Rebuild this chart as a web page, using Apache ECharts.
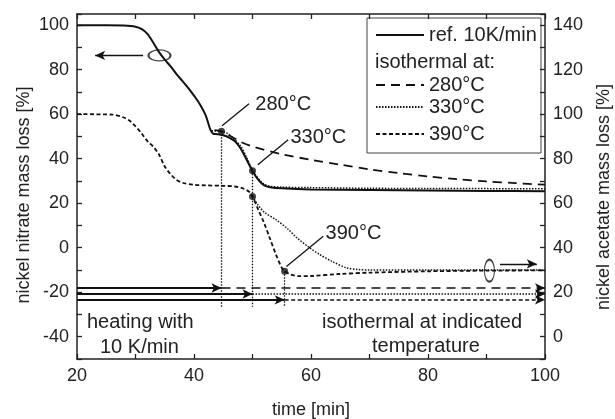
<!DOCTYPE html>
<html>
<head>
<meta charset="utf-8">
<title>Nickel nitrate / acetate mass loss</title>
<script src="https://cdn.jsdelivr.net/npm/echarts@6/dist/echarts.min.js"></script>
</head>
<body style="margin:0">
<div id="main" style="width:615px;height:419px;"></div>
<script type="text/javascript">
// nickel nitrate, reference heating 10 K/min (left axis)
var refTime = [20, 25, 28, 30, 31, 32, 33, 34, 35, 36, 37, 38, 39, 40, 41, 42, 42.8, 43.3, 44, 45, 46, 47, 48, 49, 50, 51, 52, 53, 55, 60, 70, 80, 90, 100];
var refNitrate = [100, 100, 99.8, 99.3, 98.3, 96.2, 92.3, 88, 84.5, 81.5, 78, 75, 71.8, 68.3, 64.5, 59.5, 53, 51.2, 51, 50.5, 49.5, 47.8, 44.5, 39.5, 34.5, 30.5, 28, 27.2, 26.7, 26.2, 25.9, 25.7, 25.5, 25.4];
// nickel nitrate, isothermal 280 °C branch
var t280 = [43.5, 44.7, 46, 48, 50, 55, 60, 65, 70, 75, 80, 85, 90, 95, 100];
var nitrate280 = [52.8, 52.3, 50.5, 47.5, 45.5, 42, 39.5, 37.3, 35.2, 33.5, 32, 30.8, 29.8, 29, 28.3];
// nickel nitrate, isothermal 330 °C branch
var t330 = [43, 44.7, 46, 48, 49, 50, 51, 52, 53, 55, 60, 70, 80, 100];
var nitrate330 = [52.5, 52.3, 50.8, 45.5, 40.5, 34.6, 31, 28.5, 27.6, 27.2, 27, 26.7, 26.6, 26.5];
// nickel acetate (right axis), 390 °C run
var tAc390 = [20, 26, 28, 29, 30, 31, 32, 33, 34, 35, 36, 37, 38, 40, 42, 45, 47, 48.5, 49.5, 50, 51, 52, 53, 54, 55, 55.5, 56.5, 58, 60, 65, 70, 80, 90, 100];
var acetate390 = [100, 99.8, 98.5, 97, 94.5, 91.5, 88, 85.5, 82, 76.5, 73, 70.5, 69.2, 68.3, 68, 67.8, 67.5, 66.5, 65, 63, 57, 51, 44, 37, 31, 29.4, 28, 27.2, 27.3, 28.2, 28.8, 29.4, 29.7, 29.8];
// nickel acetate, 330 °C branch
var tAc330 = [50, 51, 52, 54, 56, 57.6, 59.5, 61.5, 63.5, 66, 68, 70, 80, 90, 100];
var acetate330 = [63, 59, 56, 52.6, 48.5, 44.4, 40.5, 36.9, 34, 31, 30.2, 30, 30, 30, 30];

// switch times and marker levels
var switchTime = [44.7, 50, 55.5];
var arrowLevel = [-18.1, -20.8, -23.4];
var dropBottom = -26.5;
var nitrateDots = [[44.7, 52.3], [50, 34.6]];
var acetateDots = [[50, 63], [55.5, 29.4]];
var noteLabels = [[50.4, 64.2, '280°C'], [56.4, 49.4, '330°C'], [62.4, 6.6, '390°C']];
var leaderFrom = [[44.8, 54.8], [50.9, 37.3], [55.8, -8.4]];
var leaderTo = [[49.4, 64.7], [56.1, 48.5], [62.1, 5.1]];
var ellipses = [[34.1, 86.4], [90.5, -10.3]];

function zip(a, b) {
    var out = [];
    for (var i = 0; i < a.length; i++) out.push([a[i], b[i]]);
    return out;
}

var ink = '#111';
var dash280 = [9, 6];
var dash330 = [1.5, 1.5];
var dash390 = [4, 2.5];
var font = 'Liberation Sans, Arial, Helvetica, sans-serif';

function seg(x1, y1, x2, y2, type, s1, s2, w) {
    return [
        { coord: [x1, y1], symbol: s1 || 'none', lineStyle: { type: type, width: w || 1.5, color: ink } },
        { coord: [x2, y2], symbol: s2 || 'none' }
    ];
}

var styles = [dash280, dash330, dash390];
var markLines = [];
for (var i = 0; i < 3; i++) {
    markLines.push(seg(20, arrowLevel[i], switchTime[i], arrowLevel[i], 'solid', 'none', 'arrow', 1.8));
    markLines.push(seg(switchTime[i], arrowLevel[i], 100, arrowLevel[i], styles[i], 'none', 'arrow', 1.6));
    markLines.push(seg(leaderFrom[i][0], leaderFrom[i][1], leaderTo[i][0], leaderTo[i][1], 'solid', 'none', 'none', 1.3));
}
markLines.push(seg(switchTime[0], nitrateDots[0][1], switchTime[0], dropBottom, dash330, 'none', 'none', 1.3));
markLines.push(seg(switchTime[1], nitrateDots[1][1], switchTime[1], dropBottom, dash330, 'none', 'none', 1.3));
markLines.push(seg(switchTime[2], acetateDots[1][1] - 40, switchTime[2], dropBottom, dash330, 'none', 'none', 1.3));
markLines.push(seg(31.3, 86.4, 23.1, 86.4, 'solid', 'none', 'arrow', 1.3));
markLines.push(seg(92.3, -7.3, 98.6, -7.3, 'solid', 'none', 'arrow', 1.3));

var myChart = echarts.init(document.getElementById('main'));

function valueAxis(extra) {
    var ax = {
        type: 'value',
        axisLine: { show: true, onZero: false, lineStyle: { color: '#222', width: 1.5 } },
        axisTick: { show: true, inside: true, length: 5, lineStyle: { color: '#222', width: 1.3 } },
        axisLabel: {
            color: '#222', fontSize: 18, fontFamily: font,
            formatter: function (v) { return v % 20 === 0 ? v : ''; }
        },
        splitLine: { show: false },
        nameTextStyle: { color: '#222', fontSize: 18, fontFamily: font }
    };
    for (var k in extra) ax[k] = extra[k];
    return ax;
}

var legendText = { color: '#222', fontSize: 20, fontFamily: font };
function legendItem(name, top) {
    return {
        data: [name], left: 375, top: top, padding: 0, itemWidth: 48, itemHeight: 12,
        itemGap: 0, selectedMode: false, textStyle: legendText,
        itemStyle: { color: 'rgba(0,0,0,0)', borderColor: 'rgba(0,0,0,0)', borderWidth: 0 }
    };
}

function titleText(text, x, y) {
    return {
        type: 'text', x: x, y: y, rotation: Math.PI / 2,
        style: { text: text, fill: '#222', font: '18px ' + font, align: 'center', verticalAlign: 'middle' }
    };
}

var option = {
    animation: false,
    grid: { left: 77, top: 14, right: 70, bottom: 60, outerBoundsMode: 'none' },
    legend: [
        legendItem('ref. 10K/min', 25),
        legendItem('280°C', 75),
        legendItem('330°C', 97),
        legendItem('390°C', 124)
    ],
    graphic: [
        { type: 'rect', shape: { x: 367, y: 18, width: 174, height: 135 }, style: { fill: '#fff', stroke: '#444', lineWidth: 1 }, z: 0 },
        { type: 'text', left: 375, top: 52, style: { text: 'isothermal at:', fill: '#222', font: '20px ' + font } },
        { type: 'text', left: 87, top: 312, style: { text: 'heating with', fill: '#222', font: '20px ' + font } },
        { type: 'text', left: 100, top: 337, style: { text: '10 K/min', fill: '#222', font: '20px ' + font } },
        { type: 'text', left: 322, top: 312, style: { text: 'isothermal at indicated', fill: '#222', font: '20px ' + font } },
        { type: 'text', left: 372, top: 336, style: { text: 'temperature', fill: '#222', font: '20px ' + font } },
        titleText('nickel nitrate mass loss [%]', 24, 195),
        titleText('nickel acetate mass loss [%]', 604, 197)
    ],
    xAxis: [
        valueAxis({ min: 20, max: 100, interval: 10, name: 'time [min]', nameLocation: 'middle', nameGap: 42 }),
        valueAxis({ min: 20, max: 100, interval: 10, position: 'top', axisLabel: { show: false } })
    ],
    yAxis: [
        valueAxis({ min: -50, max: 105, interval: 10 }),
        valueAxis({ min: -10, max: 145, interval: 10, position: 'right' })
    ],
    series: [
        {
            name: 'ref. 10K/min', type: 'line', data: zip(refTime, refNitrate), symbol: 'none', smooth: 0.3,
            lineStyle: { color: ink, width: 2 }, itemStyle: { color: ink }
        },
        {
            name: '280°C', type: 'line', data: zip(t280, nitrate280), symbol: 'none', smooth: 0.3,
            lineStyle: { color: ink, width: 1.8, type: dash280 }, itemStyle: { color: ink },
            markLine: { silent: true, animation: false, label: { show: false }, symbolSize: [7, 10], data: markLines }
        },
        {
            name: '330°C', type: 'line', data: zip(t330, nitrate330), symbol: 'none', smooth: 0.3,
            lineStyle: { color: ink, width: 1.5, type: dash330 }, itemStyle: { color: ink }
        },
        {
            name: '390°C', type: 'line', yAxisIndex: 1, data: zip(tAc390, acetate390), symbol: 'none', smooth: 0.3,
            lineStyle: { color: ink, width: 1.8, type: dash390 }, itemStyle: { color: ink }
        },
        {
            name: 'acetate 330°C', type: 'line', yAxisIndex: 1, data: zip(tAc330, acetate330), symbol: 'none', smooth: 0.3,
            lineStyle: { color: ink, width: 1.5, type: dash330 }, itemStyle: { color: ink }
        },
        {
            name: 'nitrate switch', type: 'scatter', data: nitrateDots, symbolSize: 7, itemStyle: { color: ink }, z: 5
        },
        {
            name: 'acetate switch', type: 'scatter', yAxisIndex: 1, data: acetateDots, symbolSize: 7, itemStyle: { color: ink }, z: 5
        },
        {
            name: 'marks', type: 'scatter', data: ellipses, symbol: 'circle',
            symbolSize: function (v, p) { return p.dataIndex === 0 ? [22, 11] : [10, 22]; },
            itemStyle: { color: 'rgba(0,0,0,0)', borderColor: ink, borderWidth: 1.5 }, z: 5
        },
        {
            name: 'notes', type: 'scatter', data: noteLabels, symbolSize: 1, itemStyle: { opacity: 0 },
            label: {
                show: true, position: 'right', distance: 0, color: '#222', opacity: 1, fontSize: 20, fontFamily: font,
                textBorderWidth: 0,
                formatter: function (p) { return p.data[2]; }
            }
        }
    ]
};

myChart.setOption(option);
</script>
</body>
</html>
